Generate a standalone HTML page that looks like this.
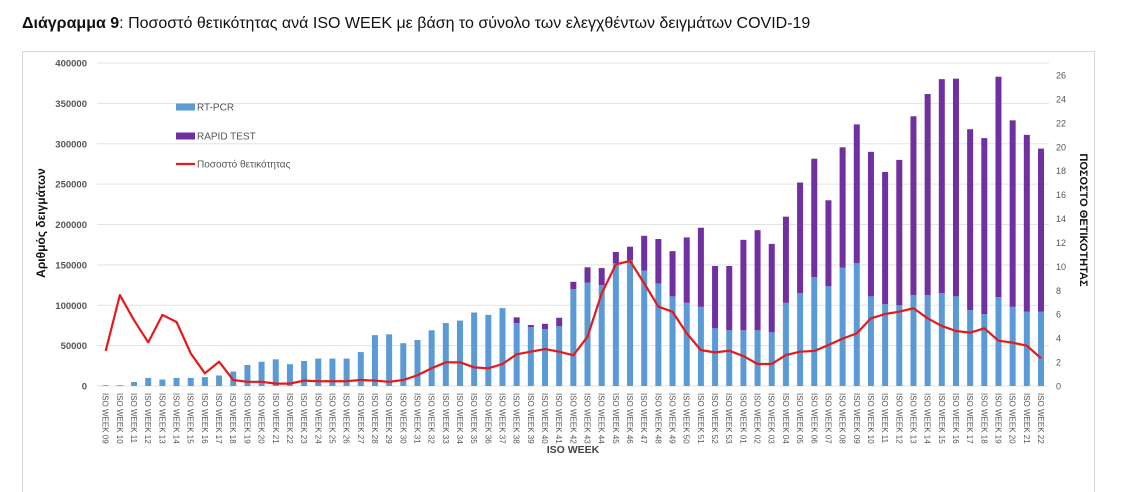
<!DOCTYPE html>
<html><head><meta charset="utf-8"><style>
body{margin:0;background:#fff;width:1121px;height:492px;overflow:hidden;font-family:"Liberation Sans",sans-serif}
#title{position:absolute;left:22px;top:15px;font-size:16px;color:#111;white-space:nowrap}
</style></head><body>
<div id="title"><b>Διάγραμμα 9</b>: Ποσοστό θετικότητας ανά ISO WEEK με βάση το σύνολο των ελεγχθέντων δειγμάτων COVID-19</div>
<svg id="chart" width="1121" height="492" style="position:absolute;left:0;top:0"></svg>
<script>
const weeks=["09","10","11","12","13","14","15","16","17","18","19","20","21","22","23","24","25","26","27","28","29","30","31","32","33","34","35","36","37","38","39","40","41","42","43","44","45","46","47","48","49","50","51","52","53","01","02","03","04","05","06","07","08","09","10","11","12","13","14","15","16","17","18","19","20","21","22"];
const totalK=[1,1,5,10,8,10,10,11,13,18,26,30,33,27,31,34,34,34,42,63,64,53,57,69,78,81,91,88,96.5,85,75.5,77,84.5,129,147,146,166,172.5,186,182,167,184,196,148.6,148.6,181,193,176,209.7,252,281.5,230,295.6,324,290,265,280,334,361.6,380,380.6,318,307,383,329,311,294];
const rtpcrK=[1,1,5,10,8,10,10,11,13,18,26,30,33,27,31,34,34,34,42,63,64,53,57,69,78,81,91,88,96.5,78,73,70.5,74,120,128,125,152,156,143,127,111,103,98,71.4,69,69,69,66.5,103,115,135,123.5,146.5,152,111,101.5,100,112.7,112.7,115,111,94,89,110,98,92,92];
const positivity=[2.93,7.6,5.5,3.65,5.94,5.35,2.73,1.06,2.03,0.5,0.35,0.35,0.2,0.2,0.45,0.4,0.4,0.4,0.5,0.45,0.35,0.5,0.9,1.48,1.98,1.98,1.56,1.48,1.84,2.65,2.87,3.09,2.87,2.57,4.12,7.75,10.17,10.45,8.58,6.63,6.21,4.4,3.0,2.81,2.95,2.5,1.84,1.84,2.59,2.87,2.93,3.43,3.96,4.4,5.66,6.02,6.21,6.5,5.66,5.02,4.6,4.46,4.82,3.79,3.62,3.37,2.32];
const leftTicks=[0,50000,100000,150000,200000,250000,300000,350000,400000];
const rightTicks=[0,2,4,6,8,10,12,14,16,18,20,22,24,26];
const NS="http://www.w3.org/2000/svg",svg=document.getElementById('chart');
function mk(t,a,p){const e=document.createElementNS(NS,t);for(const k in a)e.setAttribute(k,a[k]);(p||svg).appendChild(e);return e;}
const x0=105.7,step=(1041-105.7)/(weeks.length-1);
const X=i=>x0+i*step;
const YL=v=>386-v/400000*323;
const YR=v=>386-v/26*311;
const frame=mk('rect',{x:22.5,y:51.5,width:1072,height:460,fill:'none',stroke:'#d9d9d9'});

leftTicks.forEach(v=>{
  const g=mk('line',{x1:97,x2:1049,y1:YL(v),y2:YL(v),stroke:'#e3e3e3','stroke-width':1});
  
  const t=mk('text',{x:87,y:YL(v)+3.5,'text-anchor':'end','font-size':9.5,'font-weight':'bold',fill:'#555'});t.textContent=v;
  
});
rightTicks.forEach(v=>{
  const t=mk('text',{x:1056,y:YR(v)+3.5,'font-size':9,fill:'#555'});t.textContent=v;
  
});
weeks.forEach((w,i)=>{
  const x=X(i);
  const r=mk('rect',{x:x-3,y:YL(rtpcrK[i]*1000),width:6,height:386-YL(rtpcrK[i]*1000),fill:'#5b9bd5'});
  
  const rap=totalK[i]-rtpcrK[i];
  if(rap>0){const p=mk('rect',{x:x-3,y:YL(totalK[i]*1000),width:6,height:YL(rtpcrK[i]*1000)-YL(totalK[i]*1000),fill:'#7030a0'});
  }
  const t=mk('text',{x:0,y:0,'font-size':8,fill:'#555',transform:`translate(${x-3},393) rotate(90)`});t.textContent='ISO WEEK '+w;
  
});
const line=mk('polyline',{points:positivity.map((v,i)=>X(i)+','+YR(v)).join(' '),fill:'none',stroke:'#e31a1c','stroke-width':2.2,'stroke-linejoin':'round'});

const lt=mk('text',{x:45,y:223,'font-size':12,'font-weight':'bold',fill:'#111','text-anchor':'middle',transform:'rotate(-90 45 223)'});lt.textContent='Αριθμός δειγμάτων';

const rt=mk('text',{x:1080,y:220,'font-size':11,'font-weight':'bold',fill:'#111','text-anchor':'middle',transform:'rotate(90 1080 220)'});rt.textContent='ΠΟΣΟΣΤΟ ΘΕΤΙΚΟΤΗΤΑΣ';

const xt=mk('text',{x:573,y:453,'font-size':10.5,'font-weight':'bold',fill:'#444','text-anchor':'middle'});xt.textContent='ISO WEEK';

const leg=[['RT-PCR','#5b9bd5',107,'rect'],['RAPID TEST','#7030a0',136,'rect'],['Ποσοστό θετικότητας','#e31a1c',164,'line']];
leg.forEach(([n,c,y,k])=>{
  const s=k==='rect'?mk('rect',{x:176,y:y-3.5,width:19,height:7,fill:c}):mk('line',{x1:176,x2:195,y1:y,y2:y,stroke:c,'stroke-width':2.2});
  
  const t=mk('text',{x:197,y:y+3.5,'font-size':10,fill:'#555'});t.textContent=n;
  
});
</script>
</body></html>
